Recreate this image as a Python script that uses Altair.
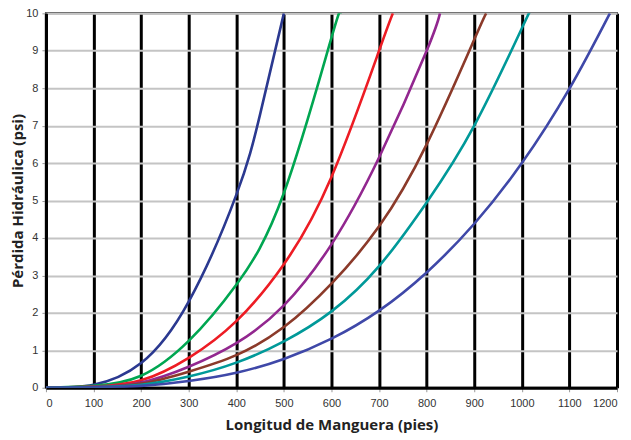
import altair as alt
import pandas as pd

# Series (x = hose length in ft, y = friction loss psi)
s1_x = [0, 100, 200, 300, 400, 450, 500]
s1_y = [0, 0.08, 0.66, 2.3, 5.15, 7.3, 10]
s2_x = [0, 100, 200, 300, 400, 500, 600, 619]
s2_y = [0, 0.05, 0.32, 1.25, 2.75, 5.2, 9.35, 10]
s3_x = [0, 100, 200, 300, 400, 500, 600, 700, 729]
s3_y = [0, 0.03, 0.2, 0.8, 1.78, 3.3, 5.63, 9.0, 10]
s4_x = [0, 100, 200, 300, 400, 500, 600, 700, 800, 828]
s4_y = [0, 0.02, 0.14, 0.56, 1.19, 2.2, 3.83, 6.15, 9.0, 10]
s5_x = [0, 100, 200, 300, 400, 500, 600, 700, 800, 900, 925]
s5_y = [0, 0.02, 0.11, 0.43, 0.87, 1.62, 2.78, 4.31, 6.5, 9.3, 10]
s6_x = [0, 100, 200, 300, 400, 500, 600, 700, 800, 900, 1000, 1015]
s6_y = [0, 0.015, 0.08, 0.3, 0.67, 1.24, 2.04, 3.25, 4.95, 7.0, 9.6, 10]
s7_x = [0, 100, 200, 300, 400, 500, 600, 700, 800, 900, 1000, 1100, 1185]
s7_y = [0, 0.01, 0.05, 0.18, 0.4, 0.77, 1.31, 2.06, 3.08, 4.38, 6.0, 7.99, 10]

series_names = ["s1", "s2", "s3", "s4", "s5", "s6", "s7"]
series_colors = ["#2B3990", "#00A651", "#ED1C24", "#92278F", "#8B3A2A", "#009999", "#3F48A8"]
xs = [s1_x, s2_x, s3_x, s4_x, s5_x, s6_x, s7_x]
ys = [s1_y, s2_y, s3_y, s4_y, s5_y, s6_y, s7_y]

x_ticks = list(range(0, 1201, 100))
y_ticks = list(range(0, 11, 1))

rows = []
for name, xv, yv in zip(series_names, xs, ys):
    for i, (a, b) in enumerate(zip(xv, yv)):
        rows.append({"serie": name, "x": a, "y": b, "i": i})
df = pd.DataFrame(rows)

chart = alt.Chart(df).mark_line(strokeWidth=2.6, interpolate="natural", clip=True).encode(
    x=alt.X("x:Q",
            scale=alt.Scale(domain=[0, 1200], nice=False),
            axis=alt.Axis(values=x_ticks, format="d", title="Longitud de Manguera (pies)",
                          grid=True, gridColor="#000000", gridWidth=3,
                          domainColor="#000000", domainWidth=3,
                          tickColor="#999999", tickSize=4,
                          labelFont="Liberation Sans", labelFontSize=11, labelColor="#333333",
                          labelPadding=6,
                          titleFont="Open Sans", titleFontSize=15, titleFontWeight="bold",
                          titleColor="#222222", titlePadding=9)),
    y=alt.Y("y:Q",
            scale=alt.Scale(domain=[0, 10], nice=False),
            axis=alt.Axis(values=y_ticks, title="Pérdida Hidráulica (psi)",
                          grid=True, gridColor="#C4C4C4", gridWidth=2,
                          domainColor="#000000", domainWidth=3,
                          tickColor="#999999", tickSize=4,
                          labelFont="Liberation Sans", labelFontSize=11, labelColor="#333333",
                          labelPadding=4,
                          titleFont="Open Sans", titleFontSize=15, titleFontWeight="bold",
                          titleColor="#222222", titlePadding=0)),
    color=alt.Color("serie:N", scale=alt.Scale(domain=series_names, range=series_colors), legend=None),
    order="i:Q",
).properties(
    width=572, height=375,
    autosize=alt.AutoSizeParams(type="none"),
    padding={"left": 38, "top": 5, "right": 6, "bottom": 50},
).configure_view(stroke="#222222", strokeWidth=2)

chart.save("out.html", embed_options={"renderer": "svg", "actions": False})
